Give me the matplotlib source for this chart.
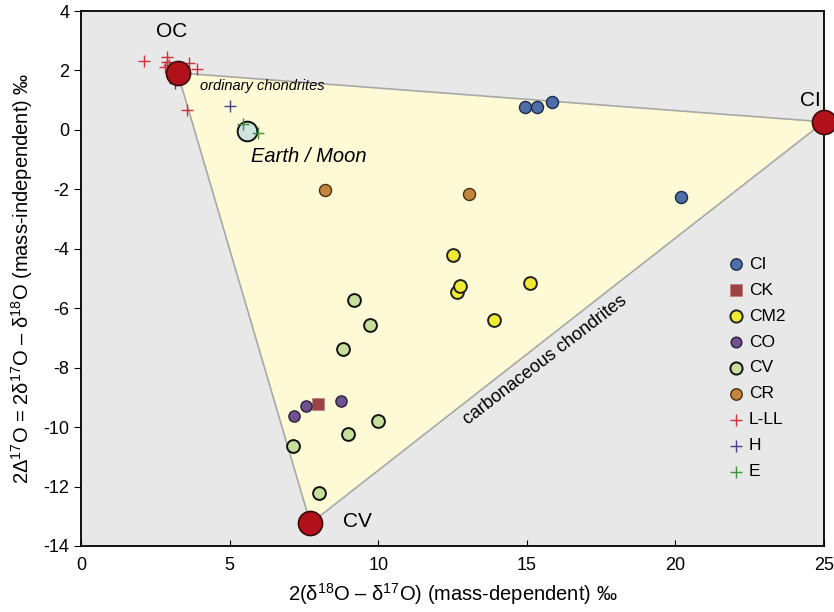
import numpy as np
import matplotlib
matplotlib.use("Agg")
import matplotlib.pyplot as plt
from matplotlib.patches import Polygon

plt.rcParams['font.family'] = ['Liberation Sans', 'DejaVu Sans']
plt.rcParams['mathtext.fontset'] = 'custom'
plt.rcParams['mathtext.rm'] = 'Liberation Sans'
plt.rcParams['mathtext.it'] = 'Liberation Sans:italic'
plt.rcParams['axes.unicode_minus'] = False

# end members (triangle corners)
end_names = ['OC', 'CI', 'CV']
end_x = [3.25, 25.0, 7.72]
end_y = [1.92, 0.27, -13.24]

earth_x, earth_y = 5.6, -0.05

# meteorite groups
ci_x = [14.95, 15.35, 15.85, 20.2]
ci_y = [0.78, 0.78, 0.94, -2.26]
ck_x = [7.96]
ck_y = [-9.22]
cm2_x = [12.5, 12.65, 12.75, 15.1, 13.9]
cm2_y = [-4.2, -5.45, -5.25, -5.15, -6.4]
co_x = [7.16, 7.56, 8.74]
co_y = [-9.62, -9.29, -9.12]
cv_x = [9.2, 9.72, 8.8, 10.0, 8.97, 7.12, 8.0]
cv_y = [-5.72, -6.56, -7.37, -9.79, -10.23, -10.63, -12.2]
cr_x = [8.2, 13.05]
cr_y = [-2.02, -2.15]
ll_x = [2.13, 2.9, 2.83, 2.95, 3.63, 3.89, 3.58, 2.9]
ll_y = [2.33, 2.45, 2.12, 2.2, 2.24, 2.04, 0.67, 2.3]
h_x = [3.15, 5.01, 3.4]
h_y = [1.57, 0.81, 2.0]
e_x = [5.46, 5.97]
e_y = [0.2, -0.11]

fig = plt.figure(figsize=(8.34, 6.12), dpi=100)
ax = fig.add_axes([81/834, 1-546/612, 743/834, 535/612])
ax.set_facecolor('#e8e8e8')

tri = Polygon(np.column_stack([end_x, end_y]), closed=True,
              facecolor='#fdfad5', edgecolor='#a8a8a8', lw=1.2, zorder=1)
ax.add_patch(tri)

ax.scatter(ci_x, ci_y, s=75, c='#4f6ea8', edgecolors='#1a2a4a', linewidths=1, zorder=3, label='CI')
ax.scatter(ck_x, ck_y, s=70, marker='s', c='#9b4242', edgecolors='#c08080', linewidths=0.6, zorder=3, label='CK')
ax.scatter(cm2_x, cm2_y, s=85, c='#f0ea32', edgecolors='#222222', linewidths=1.4, zorder=3, label='CM2')
ax.scatter(co_x, co_y, s=65, c='#6f528f', edgecolors='#2a1f3a', linewidths=1, zorder=3, label='CO')
ax.scatter(cv_x, cv_y, s=85, c='#c6df9c', edgecolors='#111111', linewidths=1.4, zorder=3, label='CV')
ax.scatter(cr_x, cr_y, s=75, c='#c7843c', edgecolors='#4a3010', linewidths=1, zorder=3, label='CR')
ax.scatter(ll_x, ll_y, s=70, marker='+', c='#d23038', linewidths=1, zorder=4, label='L-LL')
ax.scatter(h_x, h_y, s=70, marker='+', c='#4a3f8c', linewidths=1, zorder=4, label='H')
ax.scatter(e_x, e_y, s=70, marker='+', c='#3f8f3a', linewidths=1, zorder=5, label='E')

ax.scatter([earth_x], [earth_y], s=200, c='#cfe4df', edgecolors='#111111', linewidths=1.4, zorder=4)
ax.scatter(end_x, end_y, s=300, c='#b2111b', edgecolors='#3a0a0a', linewidths=1.2, zorder=6, clip_on=False)

ax.text(3.06, 3.3, 'OC', fontsize=15, ha='center', va='center')
ax.text(24.55, 1.0, 'CI', fontsize=15, ha='center', va='center')
ax.text(9.3, -13.19, 'CV', fontsize=15, ha='center', va='center')
ax.text(4.0, 1.48, 'ordinary chondrites', fontsize=10.5, style='italic', ha='left', va='center')
ax.text(5.72, -0.91, 'Earth / Moon', fontsize=14.5, style='italic', ha='left', va='center')
ax.text(15.6, -7.74, 'carbonaceous chondrites', fontsize=13, rotation=37.5,
        ha='center', va='center', rotation_mode='anchor')

ax.set_xlim(0, 25)
ax.set_ylim(-14, 4)
ax.set_xticks([0, 5, 10, 15, 20, 25])
ax.set_yticks(np.arange(-14, 5, 2))
ax.tick_params(axis='x', direction='in', length=4, labelsize=13, pad=8)
ax.tick_params(axis='y', direction='out', length=5, labelsize=13)
for s in ax.spines.values():
    s.set_linewidth(1.3)

ax.set_xlabel('2(δ$^{18}$O – δ$^{17}$O) (mass-dependent) ‰', fontsize=14.5, labelpad=5)
ax.set_ylabel('2Δ$^{17}$O = 2δ$^{17}$O – δ$^{18}$O (mass-independent) ‰', fontsize=14.5, labelpad=6)

ax.legend(loc='center left', bbox_to_anchor=(0.846, 0.333), frameon=False, fontsize=12.5,
          labelspacing=0.62, handletextpad=0.15, handlelength=1.2, scatterpoints=1,
          markerscale=0.95)

fig.savefig('out.png', dpi=100)
